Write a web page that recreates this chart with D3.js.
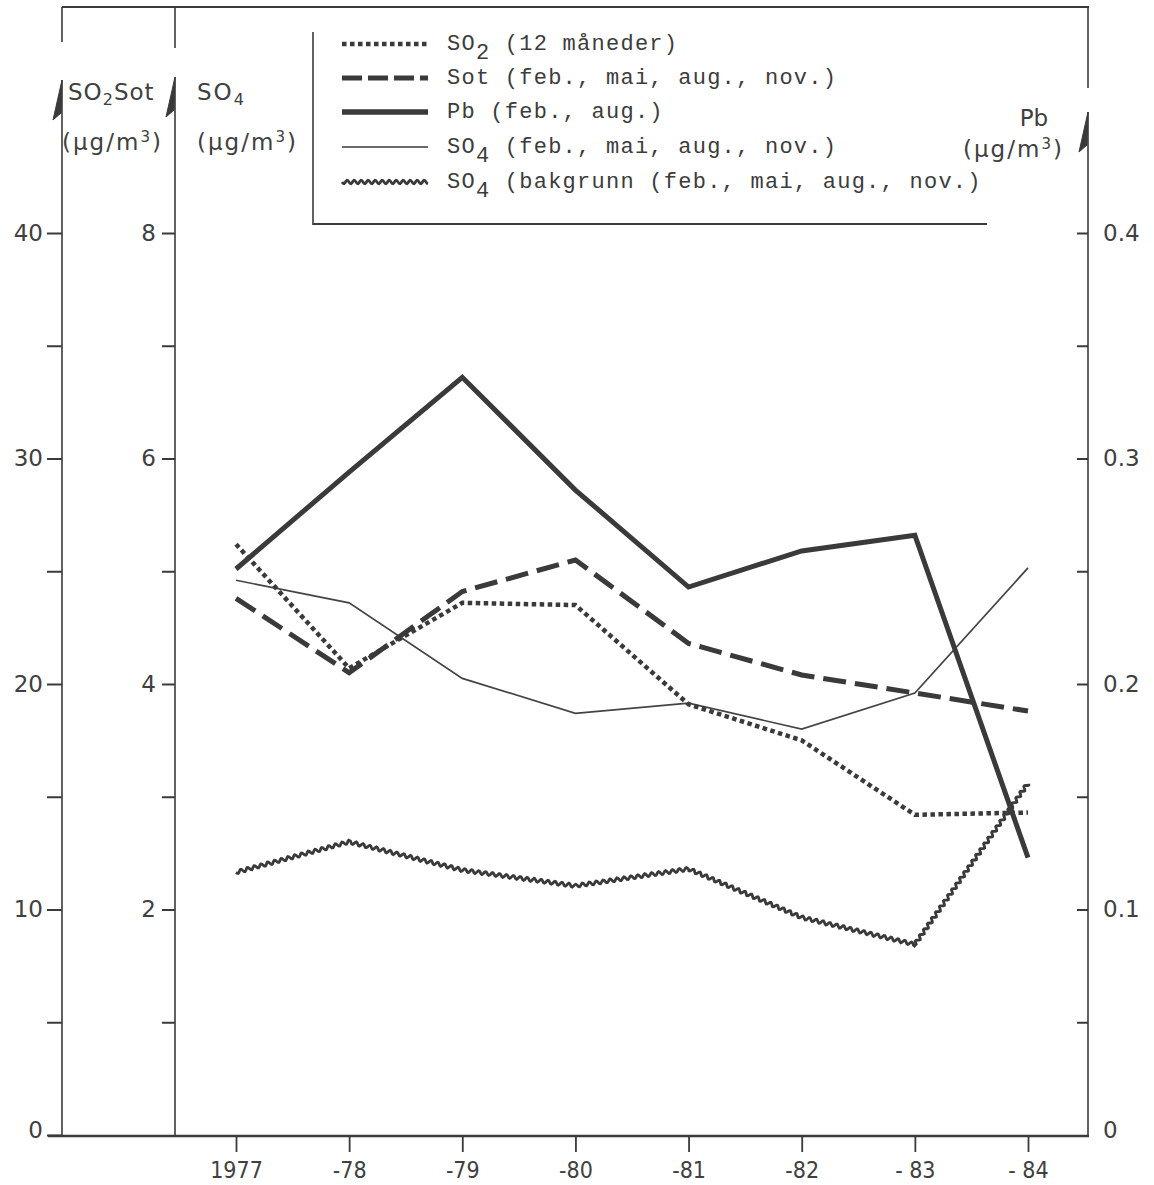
<!DOCTYPE html>
<html>
<head>
<meta charset="utf-8">
<script src="https://cdn.jsdelivr.net/npm/d3@7/dist/d3.min.js"></script>
<style>
  html, body { margin: 0; padding: 0; background: #fff; }
  svg { display: block; }
</style>
</head>
<body>
<svg id="chart" width="1154" height="1185"></svg>
<script>
// Years on the x axis
const years = [1977, 1978, 1979, 1980, 1981, 1982, 1983, 1984];
const yearLabels = ["1977", "-78", "-79", "-80", "-81", "-82", "- 83", "- 84"];

// SO2, 12-month mean (µg/m3, left scale)
const so2 = [26.2, 20.7, 23.6, 23.5, 19.1, 17.5, 14.2, 14.3];
// Soot, feb/mai/aug/nov (µg/m3, left scale)
const sot = [23.8, 20.5, 24.1, 25.5, 21.8, 20.4, 19.6, 18.8];
// Lead, feb/aug (µg/m3, right scale)
const pb = [0.251, 0.294, 0.336, 0.286, 0.243, 0.259, 0.266, 0.123];
// Sulphate, feb/mai/aug/nov (µg/m3, second scale)
const so4 = [4.92, 4.72, 4.05, 3.74, 3.83, 3.60, 3.92, 5.03];
// Sulphate, background station (µg/m3, second scale)
const so4Bg = [2.33, 2.60, 2.35, 2.21, 2.36, 1.93, 1.69, 3.12];

// Axis ticks
const leftTicks = [0, 5, 10, 15, 20, 25, 30, 35, 40];
const so4Ticks = [1, 2, 3, 4, 5, 6, 7, 8];
const pbTicks = [0, 0.05, 0.1, 0.15, 0.2, 0.25, 0.3, 0.35, 0.4];

// Legend entries: [main text, subscript, rest]
const legendItems = [
  ["SO", "2", " (12 måneder)"],
  ["Sot (feb., mai, aug., nov.)", "", ""],
  ["Pb  (feb., aug.)", "", ""],
  ["SO", "4", " (feb., mai, aug., nov.)"],
  ["SO", "4", " (bakgrunn (feb., mai, aug., nov.)"]
];

const ink = "#3a3a3a";
const svg = d3.select("#chart");

const x = d3.scaleLinear().domain([1977, 1984]).range([236, 1028]);
const yL = d3.scaleLinear().domain([0, 40]).range([1135, 233]);
const yS = d3.scaleLinear().domain([0, 8]).range([1135, 233]);
const yP = d3.scaleLinear().domain([0, 0.4]).range([1135, 233]);

const axis1X = 62, axis2X = 175, axisRX = 1088, baseY = 1136;

// Frame: top rule and bottom baseline
svg.append("line").attr("x1", axis1X).attr("x2", axisRX + 1).attr("y1", 7).attr("y2", 7)
  .attr("stroke", ink).attr("stroke-width", 2.2);
svg.append("line").attr("x1", 48).attr("x2", axisRX + 1).attr("y1", baseY).attr("y2", baseY)
  .attr("stroke", ink).attr("stroke-width", 2.6);

// Broken vertical axes with half-arrowheads
function brokenAxis(ax, topEnd, tipY) {
  svg.append("line").attr("x1", ax).attr("x2", ax).attr("y1", 7).attr("y2", topEnd)
    .attr("stroke", ink).attr("stroke-width", 1.6);
  svg.append("line").attr("x1", ax).attr("x2", ax).attr("y1", tipY).attr("y2", baseY)
    .attr("stroke", ink).attr("stroke-width", 1.6);
  svg.append("path")
    .attr("d", `M${ax},${tipY} L${ax - 9},${tipY + 40} L${ax - 1},${tipY + 33} Z`)
    .attr("fill", ink).attr("stroke", ink).attr("stroke-width", 1);
}
brokenAxis(axis1X, 42, 80);
brokenAxis(axis2X, 48, 77);
brokenAxis(axisRX, 88, 112);

const tickFont = "'DejaVu Sans', sans-serif";

// Left scale (SO2, Sot)
const gL = svg.append("g").attr("transform", `translate(${axis1X},0)`)
  .call(d3.axisLeft(yL).tickValues(leftTicks).tickSize(15).tickPadding(4)
    .tickFormat(d => d % 10 === 0 ? d : ""));
// Second scale (SO4)
const gS = svg.append("g").attr("transform", `translate(${axis2X},0)`)
  .call(d3.axisLeft(yS).tickValues(so4Ticks).tickSize(13).tickPadding(6)
    .tickFormat(d => d % 2 === 0 ? d : ""));
// Right scale (Pb)
const gR = svg.append("g").attr("transform", `translate(${axisRX},0)`)
  .call(d3.axisRight(yP).tickValues(pbTicks).tickSize(-11).tickPadding(15)
    .tickFormat(d => (Math.round(d * 100) % 10 === 0) ? (d === 0 ? "0" : d3.format(".1f")(d)) : ""));

[gL, gS, gR].forEach(g => {
  g.select(".domain").remove();
  g.selectAll(".tick line").attr("stroke", ink).attr("stroke-width", 2);
  g.selectAll(".tick text").attr("fill", "#404040")
    .style("font-family", tickFont).style("font-size", "23px");
});
gL.selectAll(".tick").filter(d => d === 0).select("text").attr("dy", "0.1em");
gR.selectAll(".tick").filter(d => d === 0).select("line").remove();
gR.selectAll(".tick").filter(d => d === 0).select("text").attr("dy", "0.1em");

// Year axis
const gX = svg.append("g").attr("transform", `translate(0,${baseY})`)
  .call(d3.axisBottom(x).tickValues(years).tickSize(16).tickPadding(10)
    .tickFormat((d, i) => yearLabels[i]));
gX.select(".domain").remove();
gX.selectAll(".tick line").attr("stroke", ink).attr("stroke-width", 1.8);
gX.selectAll(".tick text").attr("fill", "#404040")
  .style("font-family", "'DejaVu Sans Condensed', 'DejaVu Sans', sans-serif")
  .style("font-size", "23px");

// Axis titles
const titleFont = "'DejaVu Sans', sans-serif";
function title(xPos, yPos, parts, anchor) {
  const t = svg.append("text").attr("x", xPos).attr("y", yPos)
    .attr("fill", "#404040").style("font-family", titleFont).style("font-size", "23px")
    .attr("text-anchor", anchor || "start");
  parts.forEach(p => {
    const s = t.append("tspan").text(p.t);
    if (p.sub) s.style("font-size", "16px").attr("dy", 5);
    if (p.up) s.attr("dy", p.up);
    if (p.sup) s.style("font-size", "15px").attr("dy", -8);
  });
  return t;
}
const unitParts = [{t: "(µg/m"}, {t: "3", sup: true}, {t: ")", up: 8}];
title(68, 100, [{t: "SO"}, {t: "2", sub: true}, {t: "Sot", up: -5}]).attr("letter-spacing", 1);
title(62, 150, unitParts).attr("letter-spacing", 2);
title(197, 100, [{t: "SO"}, {t: "4", sub: true}]).attr("letter-spacing", 2);
title(197, 150, unitParts).attr("letter-spacing", 2);
title(1034, 126, [{t: "Pb"}], "middle");
title(963, 157, unitParts).attr("letter-spacing", 2);

// Wavy path along a polyline (used for the background-station series)
function wavyPath(pts, amp, wave) {
  const out = [];
  let s = 0;
  for (let i = 0; i < pts.length - 1; i++) {
    const [x0, y0] = pts[i], [x1, y1] = pts[i + 1];
    const len = Math.hypot(x1 - x0, y1 - y0);
    const nx = -(y1 - y0) / len, ny = (x1 - x0) / len;
    const steps = Math.max(1, Math.round(len));
    for (let k = (i === 0 ? 0 : 1); k <= steps; k++) {
      const f = k / steps;
      const ss = s + f * len;
      const o = amp * Math.sin(2 * Math.PI * ss / wave);
      out.push([x0 + (x1 - x0) * f + nx * o, y0 + (y1 - y0) * f + ny * o]);
    }
    s += len;
  }
  return d3.line()(out);
}

const lineOf = (vals, scale) => d3.line()
  .x((d, i) => x(years[i])).y(d => scale(d))(vals);

// Series
svg.append("path").attr("d", lineOf(so4, yS))
  .attr("fill", "none").attr("stroke", "#444").attr("stroke-width", 1.7);

const bgPts = so4Bg.map((v, i) => [x(years[i]), yS(v)]);
svg.append("path").attr("d", wavyPath(bgPts, 1.7, 7))
  .attr("fill", "none").attr("stroke", ink).attr("stroke-width", 2.8);

svg.append("path").attr("d", lineOf(sot, yL))
  .attr("fill", "none").attr("stroke", ink).attr("stroke-width", 5)
  .attr("stroke-dasharray", "23 9");

svg.append("path").attr("d", lineOf(so2, yL))
  .attr("fill", "none").attr("stroke", ink).attr("stroke-width", 4.5)
  .attr("stroke-dasharray", "4.5 3.5");

svg.append("path").attr("d", lineOf(pb, yP))
  .attr("fill", "none").attr("stroke", ink).attr("stroke-width", 5)
  .attr("stroke-linejoin", "miter");

// Legend box (left and bottom rules only)
svg.append("line").attr("x1", 313).attr("x2", 313).attr("y1", 32).attr("y2", 225)
  .attr("stroke", ink).attr("stroke-width", 1.6);
svg.append("line").attr("x1", 313).attr("x2", 987).attr("y1", 224).attr("y2", 224)
  .attr("stroke", ink).attr("stroke-width", 2);

const legY = [50, 84, 118, 153, 188];
const sx0 = 342, sx1 = 428;
const sampleStyles = [
  {w: 4.5, dash: "4.5 3.5"},
  {w: 5, dash: "20 6"},
  {w: 5.5, dash: null},
  {w: 1.7, dash: null},
  {w: 2.8, wavy: true}
];
legendItems.forEach((item, i) => {
  const yy = legY[i] - 6;
  const st = sampleStyles[i];
  if (st.wavy) {
    svg.append("path").attr("d", wavyPath([[sx0, yy], [sx1, yy]], 1.7, 7))
      .attr("fill", "none").attr("stroke", ink).attr("stroke-width", st.w);
  } else {
    svg.append("line").attr("x1", sx0).attr("x2", sx1).attr("y1", yy).attr("y2", yy)
      .attr("stroke", ink).attr("stroke-width", st.w)
      .attr("stroke-dasharray", st.dash);
  }
  const t = svg.append("text").attr("x", 447).attr("y", legY[i])
    .attr("fill", "#3c3c3c")
    .style("font-family", "'Liberation Mono', 'Courier New', monospace")
    .style("font-size", "22px").attr("letter-spacing", 1.25);
  t.append("tspan").text(item[0]);
  if (item[1]) {
    t.append("tspan").text(item[1]).attr("dy", 9);
    t.append("tspan").text(item[2]).attr("dy", -9);
  }
});
</script>
</body>
</html>
